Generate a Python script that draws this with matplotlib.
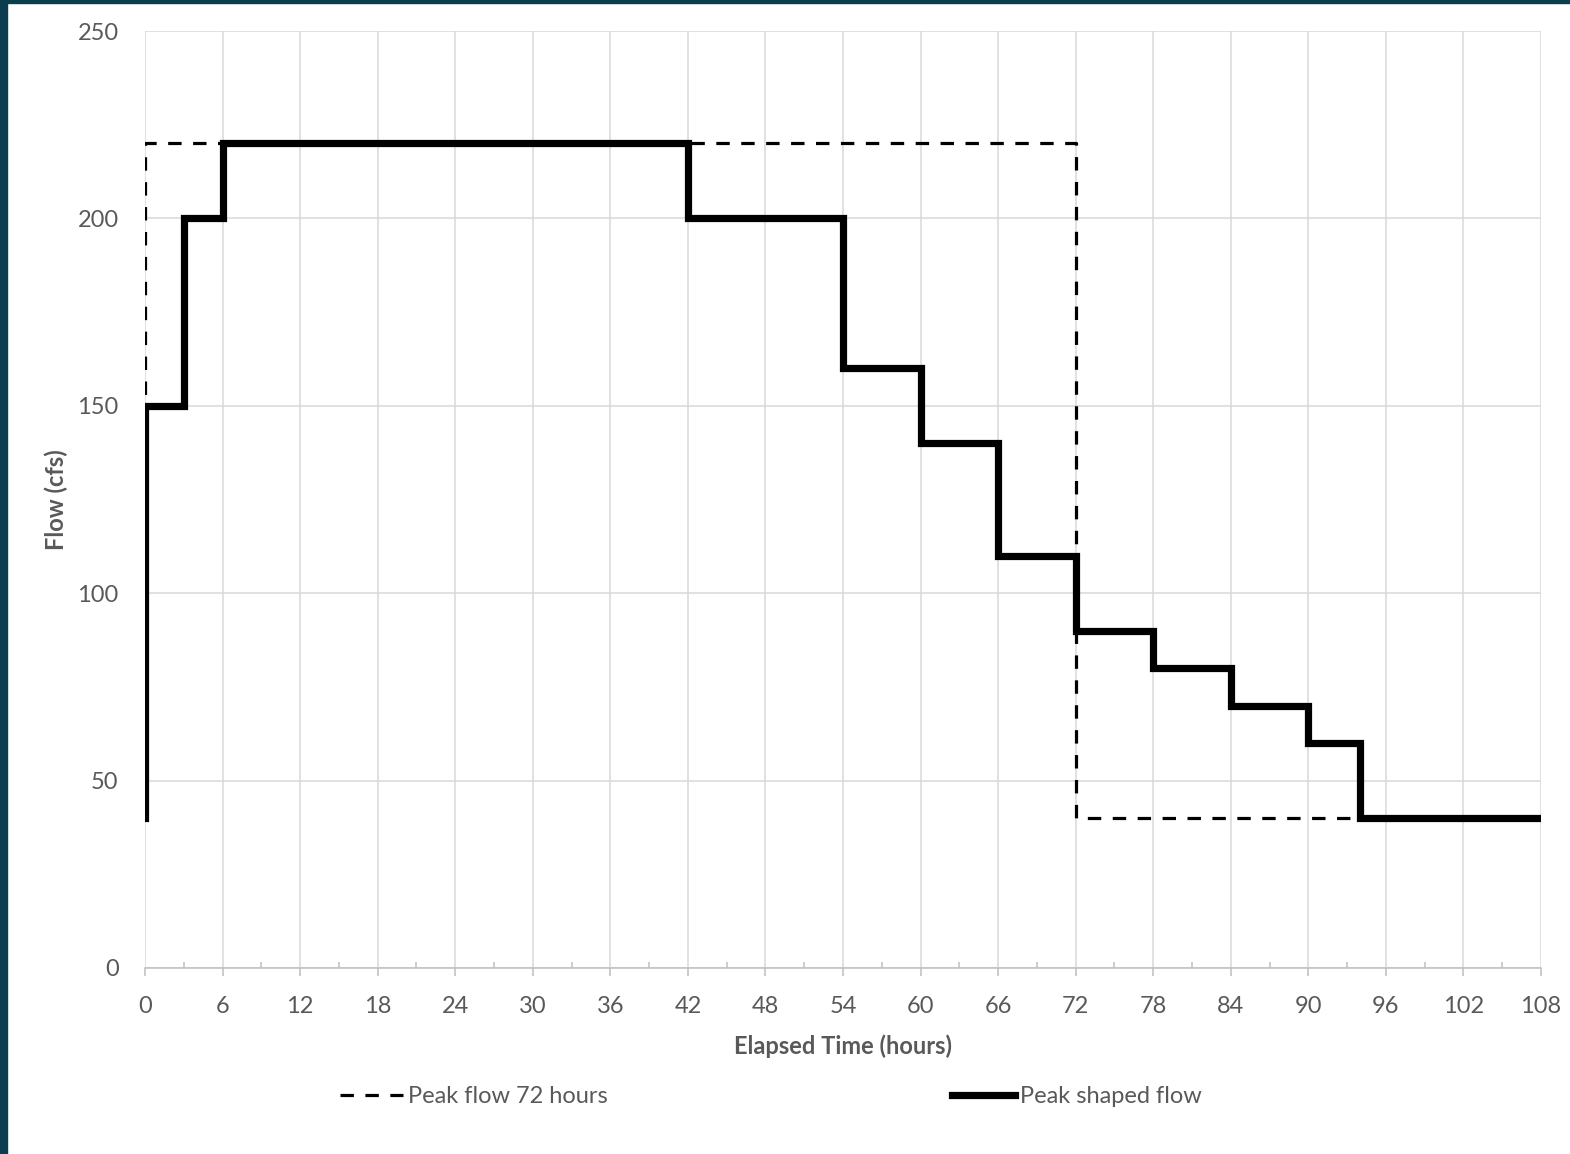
import matplotlib.pyplot as plt
from matplotlib.patches import Rectangle
from matplotlib.ticker import MultipleLocator

plt.rcParams['font.family'] = ['Lato', 'DejaVu Sans']

# step data (hours, cfs)
shaped_t = [0, 0, 3, 3, 6, 6, 42, 42, 54, 54, 60, 60, 66, 66, 72, 72, 78, 78, 84, 84, 90, 90, 94, 94, 108]
shaped_q = [40, 150, 150, 200, 200, 220, 220, 200, 200, 160, 160, 140, 140, 110, 110, 90, 90, 80, 80, 70, 70, 60, 60, 40, 40]

peak72_t = [0, 0, 72, 72, 108]
peak72_q = [40, 220, 220, 40, 40]

TEXT = '#595959'
GRID = '#d9d9d9'
FS = 17

fig = plt.figure(figsize=(15.7, 11.54), dpi=100)
ax = fig.add_axes([0.0924, 0.1612, 0.8891, 0.8119])

ax.plot(peak72_t, peak72_q, color='black', lw=2.3, dashes=(4.2, 3.6),
        label='Peak flow 72 hours', zorder=3)
ax.plot(shaped_t, shaped_q, color='black', lw=5.2, solid_joinstyle='miter',
        label='Peak shaped flow', zorder=4)

ax.set_xlim(0, 108)
ax.set_ylim(0, 250)
ax.xaxis.set_major_locator(MultipleLocator(6))
ax.xaxis.set_minor_locator(MultipleLocator(3))
ax.yaxis.set_major_locator(MultipleLocator(50))
ax.grid(True, which='major', color=GRID, lw=1.1, zorder=0)
ax.set_axisbelow(True)

for s in ['top', 'right', 'left']:
    ax.spines[s].set_visible(False)
ax.spines['bottom'].set_color('#bfbfbf')
ax.spines['bottom'].set_linewidth(1.1)

ax.tick_params(axis='x', which='major', direction='out', length=6, width=1.1,
               color='#bfbfbf', labelsize=FS, labelcolor=TEXT, pad=14)
ax.tick_params(axis='x', which='minor', direction='in', length=4, width=1.1,
               color='#bfbfbf')
ax.tick_params(axis='y', length=0, labelsize=FS, labelcolor=TEXT, pad=19)

ax.set_xlabel('Elapsed Time (hours)', fontsize=FS, fontweight='bold', color=TEXT, labelpad=13)
ax.set_ylabel('Flow (cfs)', fontsize=FS, fontweight='bold', color=TEXT, labelpad=7)

fig.legend(loc='center', bbox_to_anchor=(0.491, 0.0494), ncol=2, frameon=False,
           fontsize=FS, labelcolor=TEXT, handlelength=2.65, handletextpad=0.2,
           columnspacing=14.6)

# dark frame edge from the screenshot
fig.patches.append(Rectangle((0, 0), 0.0045, 1, transform=fig.transFigure,
                             color='#0b3d4e', zorder=10))
fig.patches.append(Rectangle((0, 0.9975), 1, 0.0025, transform=fig.transFigure,
                             color='#0b3d4e', zorder=10))

fig.savefig('out.png', dpi=100)
